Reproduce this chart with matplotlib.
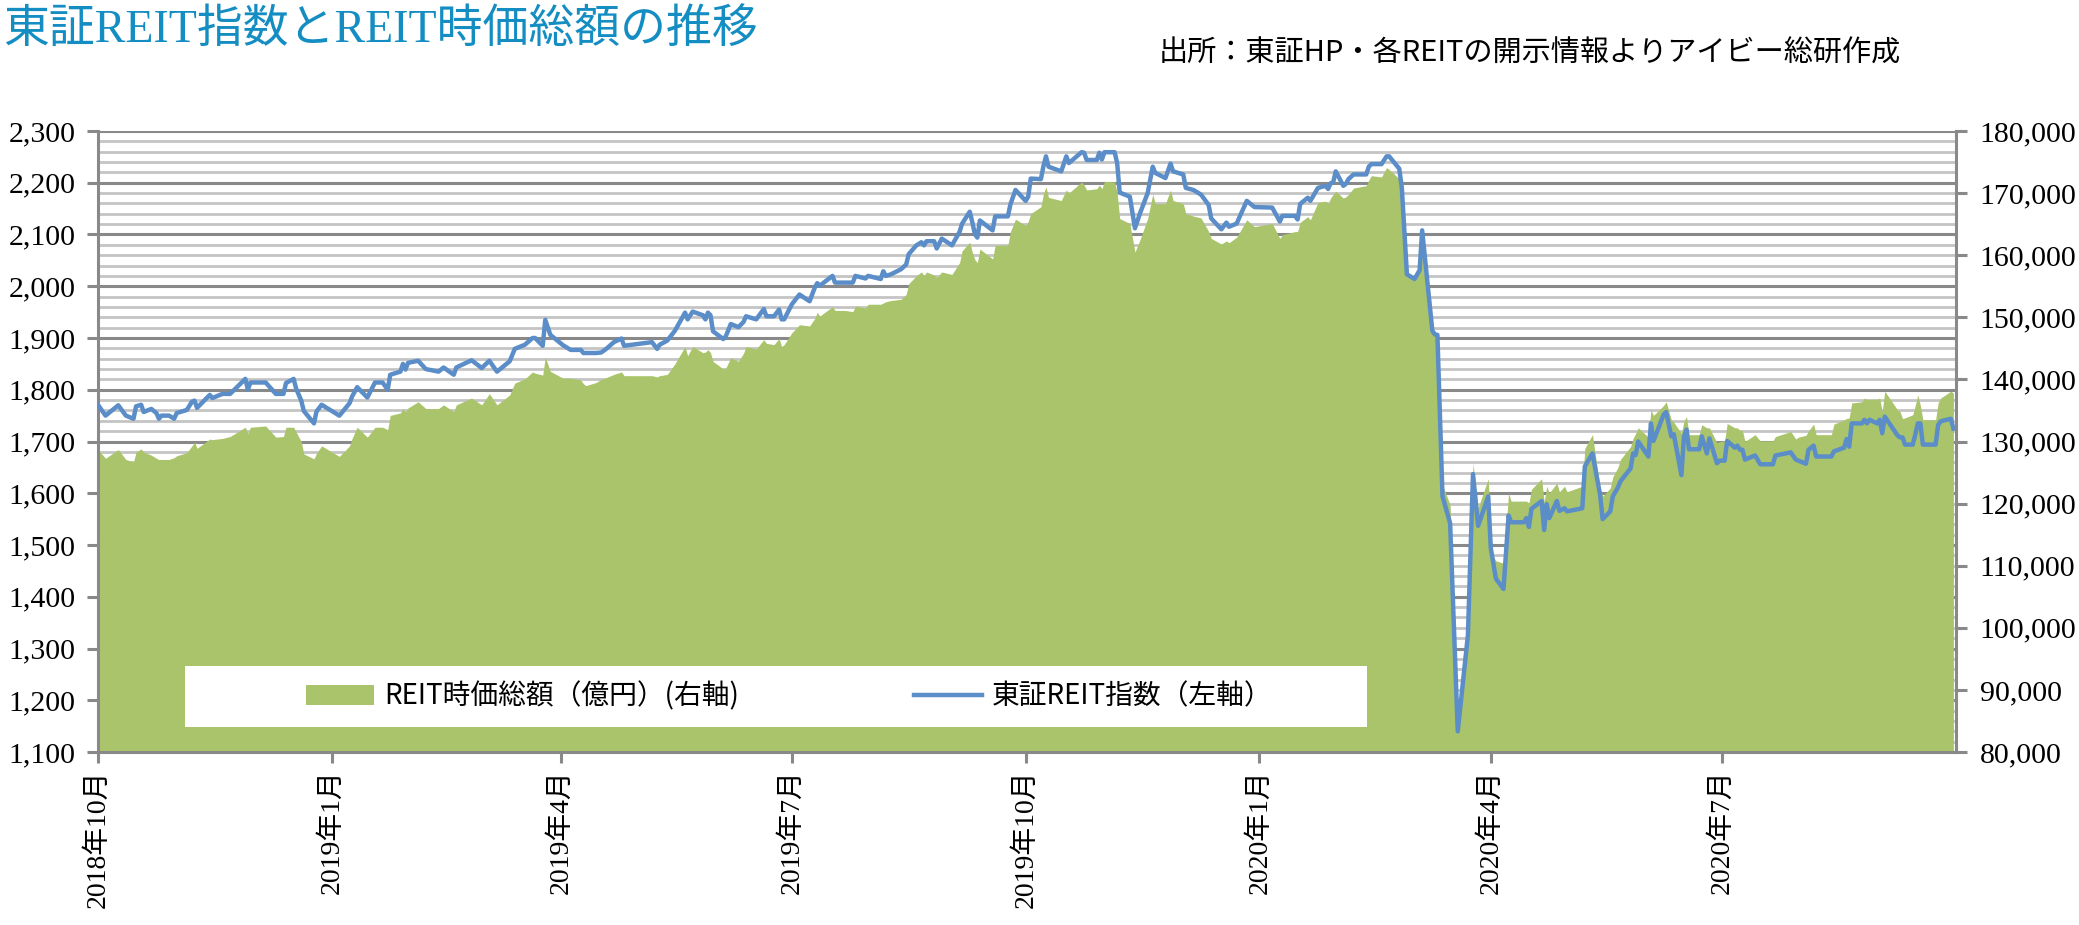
import matplotlib
matplotlib.use('Agg')
import matplotlib.pyplot as plt
from matplotlib.ticker import MultipleLocator, FuncFormatter
from matplotlib.patches import Patch, Rectangle
from matplotlib.lines import Line2D
import pandas as pd

# trading days (every few days, plus turning points)
dates = [
    '2018-10-01', '2018-10-04', '2018-10-09', '2018-10-12', '2018-10-15', '2018-10-16', '2018-10-18', '2018-10-19', '2018-10-22', '2018-10-24',
    '2018-10-25', '2018-10-26', '2018-10-29', '2018-10-31', '2018-11-01', '2018-11-05', '2018-11-07', '2018-11-08', '2018-11-09', '2018-11-12',
    '2018-11-14', '2018-11-15', '2018-11-19', '2018-11-22', '2018-11-28', '2018-11-29', '2018-11-30', '2018-12-06', '2018-12-10', '2018-12-13',
    '2018-12-14', '2018-12-17', '2018-12-18', '2018-12-20', '2018-12-21', '2018-12-25', '2018-12-26', '2018-12-28', '2019-01-04', '2019-01-08',
    '2019-01-09', '2019-01-11', '2019-01-15', '2019-01-18', '2019-01-21', '2019-01-23', '2019-01-24', '2019-01-28', '2019-01-29', '2019-01-30',
    '2019-01-31', '2019-02-04', '2019-02-07', '2019-02-12', '2019-02-14', '2019-02-18', '2019-02-19', '2019-02-25', '2019-03-01', '2019-03-04',
    '2019-03-07', '2019-03-12', '2019-03-14', '2019-03-18', '2019-03-21', '2019-03-22', '2019-03-25', '2019-03-26', '2019-03-28', '2019-04-02',
    '2019-04-05', '2019-04-09', '2019-04-10', '2019-04-11', '2019-04-15', '2019-04-17', '2019-04-19', '2019-04-22', '2019-04-25', '2019-04-26',
    '2019-05-07', '2019-05-09', '2019-05-10', '2019-05-13', '2019-05-16', '2019-05-20', '2019-05-21', '2019-05-23', '2019-05-27', '2019-05-28',
    '2019-05-29', '2019-05-30', '2019-05-31', '2019-06-04', '2019-06-05', '2019-06-07', '2019-06-10', '2019-06-12', '2019-06-13', '2019-06-17',
    '2019-06-20', '2019-06-21', '2019-06-24', '2019-06-26', '2019-06-27', '2019-06-28', '2019-07-01', '2019-07-04', '2019-07-08', '2019-07-10',
    '2019-07-11', '2019-07-12', '2019-07-17', '2019-07-18', '2019-07-22', '2019-07-25', '2019-07-26', '2019-07-30', '2019-07-31', '2019-08-05',
    '2019-08-06', '2019-08-07', '2019-08-09', '2019-08-13', '2019-08-15', '2019-08-16', '2019-08-19', '2019-08-21', '2019-08-22', '2019-08-23',
    '2019-08-26', '2019-08-27', '2019-08-29', '2019-09-02', '2019-09-05', '2019-09-06', '2019-09-09', '2019-09-10', '2019-09-11', '2019-09-12',
    '2019-09-13', '2019-09-18', '2019-09-19', '2019-09-24', '2019-09-25', '2019-09-27', '2019-10-01', '2019-10-02', '2019-10-03', '2019-10-07',
    '2019-10-08', '2019-10-09', '2019-10-10', '2019-10-15', '2019-10-17', '2019-10-18', '2019-10-23', '2019-10-24', '2019-10-25', '2019-10-29',
    '2019-10-30', '2019-10-31', '2019-11-01', '2019-11-05', '2019-11-06', '2019-11-07', '2019-11-11', '2019-11-13', '2019-11-15', '2019-11-18',
    '2019-11-20', '2019-11-21', '2019-11-25', '2019-11-27', '2019-11-28', '2019-12-02', '2019-12-03', '2019-12-06', '2019-12-09', '2019-12-12',
    '2019-12-13', '2019-12-17', '2019-12-19', '2019-12-20', '2019-12-23', '2019-12-27', '2019-12-30', '2020-01-06', '2020-01-09', '2020-01-10',
    '2020-01-15', '2020-01-16', '2020-01-17', '2020-01-20', '2020-01-21', '2020-01-24', '2020-01-27', '2020-01-28', '2020-01-29', '2020-01-30',
    '2020-01-31', '2020-02-03', '2020-02-04', '2020-02-05', '2020-02-07', '2020-02-12', '2020-02-13', '2020-02-14', '2020-02-18', '2020-02-20',
    '2020-02-21', '2020-02-25', '2020-02-26', '2020-02-28', '2020-03-02', '2020-03-04', '2020-03-05', '2020-03-09', '2020-03-10', '2020-03-11',
    '2020-03-13', '2020-03-16', '2020-03-19', '2020-03-23', '2020-03-25', '2020-03-27', '2020-03-31', '2020-04-01', '2020-04-02', '2020-04-03',
    '2020-04-06', '2020-04-08', '2020-04-09', '2020-04-14', '2020-04-15', '2020-04-16', '2020-04-17', '2020-04-21', '2020-04-22', '2020-04-23',
    '2020-04-24', '2020-04-27', '2020-04-28', '2020-04-30', '2020-05-01', '2020-05-07', '2020-05-08', '2020-05-11', '2020-05-14', '2020-05-15',
    '2020-05-18', '2020-05-19', '2020-05-21', '2020-05-22', '2020-05-26', '2020-05-27', '2020-05-28', '2020-05-29', '2020-06-02', '2020-06-03',
    '2020-06-04', '2020-06-08', '2020-06-09', '2020-06-11', '2020-06-12', '2020-06-15', '2020-06-16', '2020-06-17', '2020-06-18', '2020-06-22',
    '2020-06-23', '2020-06-25', '2020-06-26', '2020-06-29', '2020-06-30', '2020-07-02', '2020-07-03', '2020-07-06', '2020-07-07', '2020-07-08',
    '2020-07-09', '2020-07-10', '2020-07-14', '2020-07-16', '2020-07-21', '2020-07-22', '2020-07-28', '2020-07-30', '2020-07-31', '2020-08-03',
    '2020-08-04', '2020-08-06', '2020-08-07', '2020-08-13', '2020-08-14', '2020-08-18', '2020-08-19', '2020-08-20', '2020-08-21', '2020-08-25',
    '2020-08-26', '2020-08-27', '2020-08-28', '2020-08-31', '2020-09-01', '2020-09-02', '2020-09-03', '2020-09-08', '2020-09-09', '2020-09-10',
    '2020-09-11', '2020-09-14', '2020-09-15', '2020-09-16', '2020-09-17', '2020-09-18', '2020-09-23', '2020-09-24', '2020-09-25', '2020-09-29',
    '2020-09-30',
]

# 東証REIT指数 (left axis)
tse_reit_index = [
    1771, 1750, 1770, 1750, 1744, 1768, 1771, 1757, 1763, 1755,
    1744, 1750, 1750, 1744, 1755, 1761, 1777, 1779, 1765, 1780,
    1790, 1784, 1792, 1792, 1821, 1800, 1814, 1814, 1792, 1792,
    1813, 1821, 1802, 1779, 1759, 1735, 1758, 1771, 1750, 1774,
    1787, 1805, 1785, 1814, 1814, 1800, 1829, 1835, 1850, 1839,
    1852, 1856, 1840, 1835, 1843, 1829, 1843, 1857, 1842, 1856,
    1835, 1855, 1879, 1887, 1900, 1900, 1885, 1935, 1906, 1886,
    1877, 1877, 1871, 1871, 1871, 1872, 1879, 1892, 1899, 1885,
    1892, 1879, 1887, 1895, 1914, 1949, 1936, 1951, 1944, 1936,
    1949, 1944, 1913, 1898, 1903, 1927, 1921, 1931, 1942, 1936,
    1956, 1942, 1942, 1955, 1936, 1936, 1965, 1984, 1971, 1997,
    2006, 2001, 2020, 2007, 2007, 2007, 2020, 2015, 2020, 2014,
    2029, 2020, 2023, 2033, 2042, 2062, 2079, 2085, 2079, 2087,
    2087, 2073, 2092, 2079, 2105, 2121, 2144, 2124, 2101, 2094,
    2127, 2108, 2135, 2135, 2158, 2186, 2165, 2173, 2208, 2207,
    2232, 2251, 2231, 2222, 2251, 2238, 2259, 2258, 2244, 2244,
    2258, 2245, 2259, 2259, 2238, 2181, 2173, 2112, 2141, 2180,
    2231, 2219, 2209, 2237, 2222, 2216, 2190, 2186, 2177, 2157,
    2131, 2110, 2123, 2115, 2121, 2165, 2153, 2152, 2125, 2136,
    2136, 2129, 2159, 2171, 2165, 2190, 2194, 2188, 2199, 2201,
    2222, 2194, 2198, 2207, 2216, 2216, 2231, 2236, 2236, 2251,
    2251, 2227, 2190, 2023, 2014, 2031, 2108, 1914, 1907, 1906,
    1594, 1542, 1140, 1326, 1637, 1537, 1594, 1494, 1465, 1435,
    1415, 1557, 1544, 1544, 1552, 1535, 1570, 1585, 1529, 1579,
    1552, 1585, 1566, 1571, 1565, 1571, 1652, 1677, 1597, 1550,
    1565, 1594, 1611, 1623, 1648, 1677, 1674, 1700, 1671, 1735,
    1701, 1752, 1757, 1710, 1714, 1635, 1710, 1723, 1685, 1685,
    1710, 1677, 1706, 1658, 1663, 1663, 1701, 1688, 1692, 1684,
    1684, 1665, 1673, 1656, 1656, 1673, 1679, 1665, 1663, 1657,
    1684, 1692, 1671, 1671, 1681, 1688, 1705, 1690, 1735, 1735,
    1742, 1735, 1742, 1735, 1742, 1716, 1748, 1712, 1708, 1708,
    1694, 1694, 1713, 1735, 1735, 1694, 1694, 1732, 1739, 1744,
    1725,
]

# REIT時価総額 in 億円 (right axis)
reit_market_cap = [
    128700, 127300, 128700, 127100, 126700, 128300, 128800, 128300, 127800, 127300,
    127100, 127100, 127100, 127400, 127700, 128200, 129300, 129900, 128900, 129800,
    130400, 130300, 130500, 130800, 132300, 131300, 132300, 132500, 130700, 130800,
    132300, 132300, 131500, 130000, 128000, 127200, 128100, 129300, 127600, 129300,
    130500, 132300, 130700, 132300, 132300, 131900, 134200, 134600, 135300, 134800,
    135400, 136400, 135300, 135300, 135900, 134800, 135900, 137000, 135900, 137700,
    135900, 137500, 139400, 140100, 141200, 141000, 140700, 143600, 141300, 140200,
    140200, 139900, 139300, 139000, 139500, 140000, 140300, 140800, 141200, 140600,
    140600, 140400, 140600, 140800, 142500, 145300, 143800, 145300, 144300, 144400,
    144800, 144300, 142900, 141700, 141800, 143500, 142900, 144200, 145300, 144900,
    146400, 145800, 145600, 146600, 145300, 145600, 147500, 148800, 148600, 149800,
    150800, 150200, 151700, 151100, 151100, 150900, 151800, 151500, 152100, 152100,
    152300, 152500, 152700, 152900, 153700, 155400, 156700, 157300, 156700, 157300,
    156800, 156400, 157300, 156900, 158800, 160700, 162100, 160500, 159300, 158800,
    161000, 159400, 161600, 161600, 163800, 165800, 164800, 165400, 166700, 167800,
    169900, 171000, 169300, 168800, 170500, 170000, 171800, 171300, 170500, 170700,
    171300, 170700, 171900, 171800, 170000, 165900, 165100, 160500, 162500, 165900,
    169800, 168300, 168300, 170500, 168800, 168300, 166700, 166300, 166000, 163800,
    162700, 161800, 162300, 162000, 162900, 165700, 164600, 165100, 162700, 163300,
    163800, 163800, 165300, 166200, 165700, 168500, 168700, 168300, 169200, 169800,
    170300, 169200, 169400, 169800, 170800, 171200, 172100, 172800, 172600, 174100,
    173800, 172300, 170800, 156500, 156500, 157500, 162500, 147800, 147500, 147500,
    123000, 119800, 83300, 99200, 126500, 119300, 124000, 114900, 111400, 110800,
    110400, 121700, 120400, 120400, 120400, 120100, 122300, 124000, 120300, 122800,
    121700, 123300, 121900, 122800, 121900, 122800, 128900, 131100, 122500, 121200,
    122500, 124300, 125800, 127100, 129200, 130500, 131300, 132200, 130700, 135100,
    134200, 135800, 136400, 133500, 133100, 131300, 133300, 134000, 131100, 131100,
    132700, 132200, 132200, 129800, 130000, 130100, 132900, 132200, 132200, 131800,
    131800, 130000, 131100, 130100, 130100, 130800, 131600, 130400, 130700, 131000,
    131700, 132800, 131100, 131100, 132800, 133500, 133700, 133800, 136200, 136400,
    137000, 136800, 136800, 136800, 137000, 134800, 138100, 135100, 134800, 133700,
    133800, 134300, 135800, 137500, 135800, 133500, 133500, 136200, 137000, 138100,
    137800,
]

month_ticks = ['2018-10-01', '2019-01-01', '2019-04-01', '2019-07-01',
               '2019-10-01', '2020-01-01', '2020-04-01', '2020-07-01']

title = '東証REIT指数とREIT時価総額の推移'
source = '出所：東証HP・各REITの開示情報よりアイビー総研作成'
label_cap = 'REIT時価総額（億円）(右軸)'
label_idx = '東証REIT指数（左軸）'

assert len(dates) == len(tse_reit_index) == len(reit_market_cap)

GREEN = '#AAC46B'
BLUE = '#5B8DC8'
GRID_DARK = '#898989'
GRID_LIGHT = '#C4C4C4'
SERIF = ['Liberation Serif', 'Noto Sans CJK JP']
SANS = ['Noto Sans CJK JP', 'DejaVu Sans']

plt.rcParams['font.family'] = SERIF

x = pd.to_datetime(dates)
comma = FuncFormatter(lambda v, p: f'{v:,.0f}')
x_start, x_end = pd.Timestamp('2018-10-01'), pd.Timestamp('2020-10-01')

fig = plt.figure(figsize=(20.79, 9.25), dpi=100)

# base axes: left scale, grid, left ticks, date ticks
ax = fig.add_axes([0.0471, 0.187, 0.8937, 0.6714])
ax.set_xlim(x_start, x_end)
ax.set_ylim(1100, 2300)
ax.yaxis.set_major_locator(MultipleLocator(100))
ax.yaxis.set_minor_locator(MultipleLocator(20))
ax.yaxis.set_major_formatter(comma)
ax.grid(which='minor', axis='y', color=GRID_LIGHT, linewidth=2.0)
ax.grid(which='major', axis='y', color=GRID_DARK, linewidth=2.2)
ax.tick_params(axis='y', which='major', direction='out', length=8, width=2.2,
               color=GRID_DARK, pad=8, labelsize=21.5)
ax.tick_params(axis='y', which='minor', length=0)

ticks = pd.to_datetime(month_ticks)
ax.set_xticks(ticks)
ax.set_xticklabels([f'{d.year}年{d.month}月' for d in ticks])
ax.tick_params(axis='x', direction='out', length=8, width=2.2, color=GRID_DARK,
               pad=4.5, labelsize=20, labelrotation=90)
for s in ax.spines.values():
    s.set_visible(False)

# market cap area on the right scale
axr = ax.twinx()
axr.fill_between(x, 80000, reit_market_cap, color=GREEN, linewidth=0, zorder=2)
axr.set_ylim(80000, 180000)
axr.yaxis.set_major_locator(MultipleLocator(10000))
axr.yaxis.set_major_formatter(comma)
axr.tick_params(axis='y', direction='out', length=8, width=2.2,
                color=GRID_DARK, pad=9, labelsize=21.5)
for side in ['left', 'right', 'bottom']:
    axr.spines[side].set_color(GRID_DARK)
    axr.spines[side].set_linewidth(2.2)
axr.spines['top'].set_visible(False)

# index line on top, left scale, no ticks of its own
axl = ax.twinx()
axl.plot(x, tse_reit_index, color=BLUE, linewidth=3.2, zorder=3)
axl.set_ylim(1100, 2300)
axl.set_xlim(x_start, x_end)
axl.set_yticks([])
for s in axl.spines.values():
    s.set_visible(False)

# white legend box
axl.add_patch(Rectangle((0.0468, 0.040), 0.636, 0.0985, transform=axl.transAxes,
                        facecolor='white', edgecolor='none', zorder=10))
handles = [Patch(facecolor=GREEN, edgecolor='none'),
           Line2D([], [], color=BLUE, linewidth=3.2)]
leg = axl.legend(handles, [label_cap, label_idx], loc='center left',
                 bbox_to_anchor=(0.112, 0.0894), frameon=False, ncol=2,
                 prop={'family': SANS, 'size': 20}, handlelength=2.45,
                 handleheight=0.7, handletextpad=0.35, columnspacing=6.3,
                 borderpad=0, borderaxespad=0)
leg.set_zorder(11)

fig.text(0.0015, 0.9676, title, fontsize=33, color='#148DC2', ha='left', va='center')
fig.text(0.7357, 0.9416, source, family=SANS, fontsize=21, ha='center', va='center')

fig.savefig('out.png', dpi=100)
